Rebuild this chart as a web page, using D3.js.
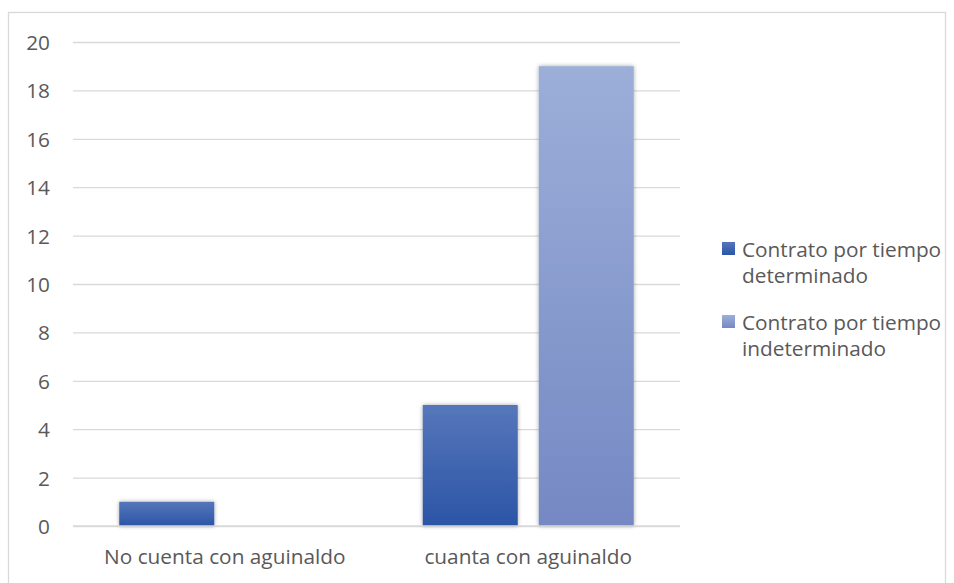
<!DOCTYPE html>
<html><head><meta charset="utf-8">
<script src="https://cdn.jsdelivr.net/npm/d3@7"></script>
<style>html,body{margin:0;padding:0;background:#fff;}</style>
</head><body>
<script>
const categories = ["No cuenta con aguinaldo", "cuanta con aguinaldo"];
const seriesNames = [["Contrato por tiempo", "determinado"], ["Contrato por tiempo", "indeterminado"]];
const seriesDeterminado = [1, 5];
const seriesIndeterminado = [0, 19];
const yTicks = [0, 2, 4, 6, 8, 10, 12, 14, 16, 18, 20];

(function () {
const W = 954, H = 583;
const font = "'Open Sans', sans-serif";
const txt = "#595959";
const fs = "20.8px";
const svg = d3.select("body").append("svg").attr("width", W).attr("height", H);
const defs = svg.append("defs");
const grads = [["g0", "#5676bb", "#2b55a6"], ["g1", "#9cafd9", "#7588c3"]];
grads.forEach(([id, a, b]) => {
  const g = defs.append("linearGradient").attr("id", id).attr("x1", 0).attr("y1", 0).attr("x2", 0).attr("y2", 1);
  g.append("stop").attr("offset", "0%").attr("stop-color", a);
  g.append("stop").attr("offset", "100%").attr("stop-color", b);
});
const f = defs.append("filter").attr("id", "sh").attr("x", "-20%").attr("y", "-20%").attr("width", "140%").attr("height", "140%");
f.append("feDropShadow").attr("dx", 0).attr("dy", 0).attr("stdDeviation", 2).attr("flood-color", "#000").attr("flood-opacity", 0.35);

svg.append("rect").attr("x", 8.5).attr("y", 12.5).attr("width", W - 17).attr("height", H).attr("fill", "none").attr("stroke", "#d9d9d9").attr("stroke-width", 1.3);

const pL = 73, pR = 680, pT = 42, pB = 526;
const y = d3.scaleLinear().domain([0, 20]).range([pB, pT]);
const x0 = d3.scaleBand().domain(categories).range([pL, pR]);
const x1 = d3.scaleBand().domain([0, 1]).range([46.25, 257.25]).paddingInner(21 / 116);

const yAxis = d3.axisLeft(y).tickValues(yTicks).tickSize(-(pR - pL)).tickPadding(23);
const gy = svg.append("g").attr("transform", `translate(${pL},0)`).call(yAxis);
gy.select(".domain").remove();
gy.selectAll("line").attr("stroke", "#d9d9d9").attr("stroke-width", 1.3);
gy.selectAll("text").attr("fill", txt).style("font-family", font).style("font-size", fs).attr("dy", "0.36em");

const data = [seriesDeterminado, seriesIndeterminado];
categories.forEach((c, i) => {
  data.forEach((s, j) => {
    if (s[i] > 0) {
      svg.append("rect").attr("x", x0(c) + x1(j)).attr("y", y(s[i])).attr("width", x1.bandwidth())
        .attr("height", y(0) - y(s[i])).attr("fill", `url(#g${j})`).attr("filter", "url(#sh)");
    }
  });
});
svg.append("line").attr("x1", pL).attr("x2", pR).attr("y1", y(0)).attr("y2", y(0)).attr("stroke", "#d9d9d9").attr("stroke-width", 1.3);

svg.selectAll(".cat").data(categories).enter().append("text")
  .attr("x", d => x0(d) + x0.bandwidth() / 2).attr("y", 564).attr("text-anchor", "middle")
  .attr("fill", txt).style("font-family", font).style("font-size", fs).text(d => d);

const legend = svg.append("g");
seriesNames.forEach((n, j) => {
  const ly = 242 + j * 73;
  legend.append("rect").attr("x", 722).attr("y", ly).attr("width", 13).attr("height", 13).attr("fill", `url(#g${j})`);
  n.forEach((line, k) => {
    legend.append("text").attr("x", 742).attr("y", ly + 15 + k * 26).attr("fill", txt)
      .style("font-family", font).style("font-size", fs).text(line);
  });
});
})();
</script>
</body></html>
